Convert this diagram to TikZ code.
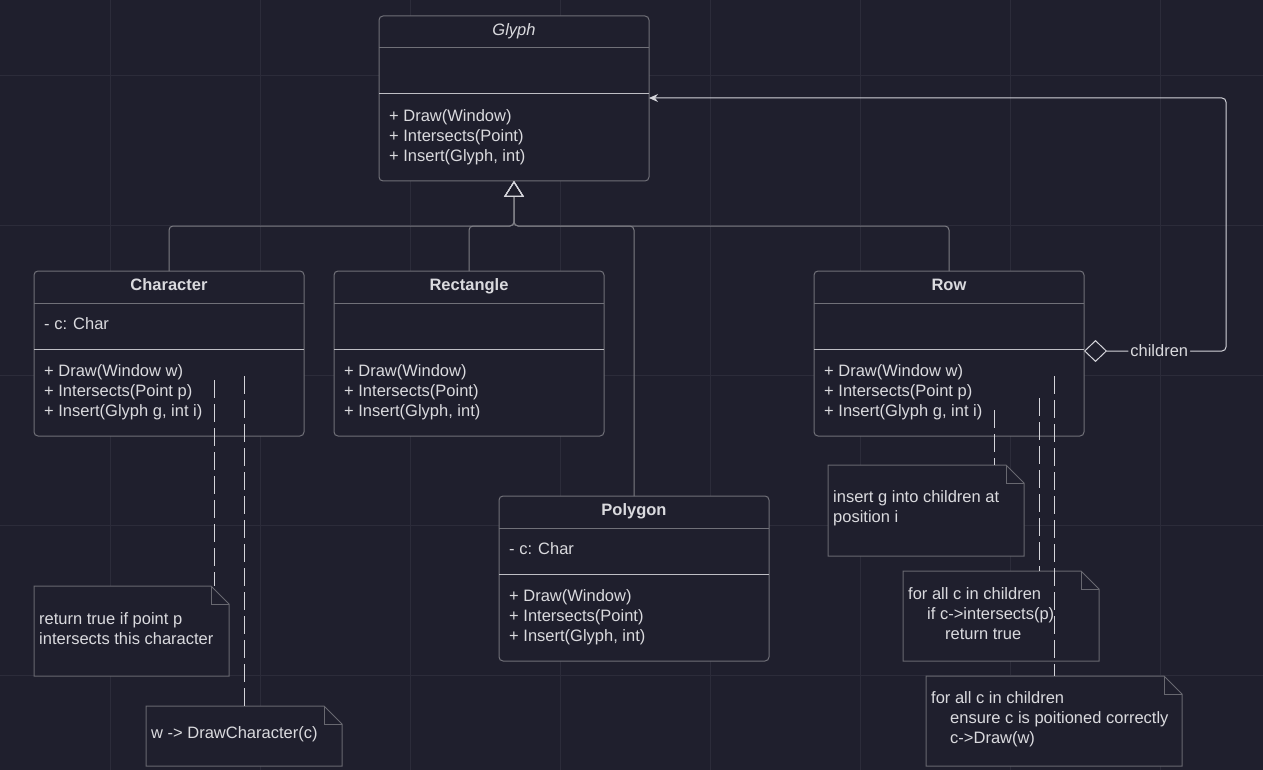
\documentclass[tikz,border=0pt]{standalone}
\usepackage{fontspec}
\setmainfont{Liberation Sans}
\usetikzlibrary{arrows.meta}

\definecolor{bgcol}{RGB}{31,31,45}
\definecolor{gridcol}{RGB}{44,44,58}
\definecolor{boxline}{RGB}{112,112,120}
\definecolor{opscol}{RGB}{190,190,196}
\definecolor{textcol}{RGB}{218,218,222}
\definecolor{inhcol}{RGB}{125,125,132}
\definecolor{linkcol}{RGB}{212,212,218}
\definecolor{notecol}{RGB}{104,104,112}

\tikzset{
  classbox/.style={draw=boxline, fill=bgcol, line width=1pt, rounded corners=4pt,
    minimum width=270pt, minimum height=165pt, inner sep=0pt, outer sep=0pt, anchor=north west},
  sepline/.style={draw=boxline, line width=1pt},
  opsline/.style={draw=opscol, line width=1pt},
  txt/.style={text=textcol, font=\fontsize{16.5pt}{20pt}\selectfont, inner sep=0pt,
    text height=11.8pt, text depth=0pt},
  notebg/.style={draw=none, inner sep=0pt, outer sep=0pt, anchor=north west},
  noteline/.style={draw=notecol, fill=bgcol, line width=1pt},
  notetxt/.style={text=textcol, font=\fontsize{16.5pt}{20pt}\selectfont, inner sep=0pt,
    align=left, anchor=west},
  inherit/.style={draw=inhcol, line width=1pt, rounded corners=4pt,
    -{Triangle[open, length=16pt, width=20pt, color=linkcol]}},
  aggr/.style={draw=linkcol, line width=1pt, rounded corners=4pt,
    {Diamond[open, length=23pt, width=22pt]}-{Stealth[length=9pt, width=8pt]}},
  lbl/.style={fill=bgcol, text=textcol, font=\fontsize{16.5pt}{20pt}\selectfont,
    inner xsep=2pt, inner ysep=1pt},
  noteconn/.style={draw=linkcol, line width=1pt, dash pattern=on 18pt off 6pt},
  gridline/.style={draw=gridcol, line width=0.8pt}
}

% name, top-left, title, attribute, three operations
\newcommand{\umlclass}[7]{%
  \node[classbox] (#1) at (#2) {};
  \draw[sepline] ([yshift=-32pt]#1.north west) -- ([yshift=-32pt]#1.north east);
  \draw[opsline] ([yshift=-78pt]#1.north west) -- ([yshift=-78pt]#1.north east);
  \node[txt] (#1-t) at ([yshift=-14pt]#1.north) {#3};
  \node[txt, anchor=west] (#1-a) at ([shift={(10pt,-53pt)}]#1.north west) {#4};
  \node[txt, anchor=west] (#1-m1) at ([shift={(10pt,-99.5pt)}]#1.north west) {#5};
  \node[txt, anchor=west] (#1-m2) at ([shift={(10pt,-119.5pt)}]#1.north west) {#6};
  \node[txt, anchor=west] (#1-m3) at ([shift={(10pt,-140pt)}]#1.north west) {#7};
}

% name, top-left, width, height, text
\newcommand{\umlnote}[5]{%
  \node[notebg, minimum width=#3, minimum height=#4] (#1) at (#2) {};
  \filldraw[noteline] (#1.north west) -- ([xshift=-18pt]#1.north east)
    -- ([yshift=-18pt]#1.north east) -- (#1.south east) -- (#1.south west) -- cycle;
  \draw[noteline, fill=none] ([xshift=-18pt]#1.north east) |- ([yshift=-18pt]#1.north east);
  \node[notetxt] (#1-t) at ([shift={(5pt,2pt)}]#1.west) {#5};
}

\begin{document}
\begin{tikzpicture}[x=1pt, y=-1pt]
  \fill[bgcol] (0,0) rectangle (1263,770);
  \useasboundingbox (0,0) rectangle (1263,770);
  \foreach \x in {110,260,...,1160} \draw[gridline] (\x,0) -- (\x,770);
  \foreach \y in {75,225,...,675} \draw[gridline] (0,\y) -- (1263,\y);

  \umlclass{glyph}{379,16}{\textit{Glyph}}{}
    {+ Draw(Window)}{+ Intersects(Point)}{+ Insert(Glyph, int)}
  \umlclass{character}{34,271}{\textbf{Character}}{- c: Char}
    {+ Draw(Window w)}{+ Intersects(Point p)}{+ Insert(Glyph g, int i)}
  \umlclass{rectangle}{334,271}{\textbf{Rectangle}}{}
    {+ Draw(Window)}{+ Intersects(Point)}{+ Insert(Glyph, int)}
  \umlclass{row}{814,271}{\textbf{Row}}{}
    {+ Draw(Window w)}{+ Intersects(Point p)}{+ Insert(Glyph g, int i)}
  \umlclass{polygon}{499,496}{\textbf{Polygon}}{- c: Char}
    {+ Draw(Window)}{+ Intersects(Point)}{+ Insert(Glyph, int)}

  \coordinate (hub) at (514,226);
  \foreach \c in {character,rectangle,polygon,row}
    \draw[inherit] (\c.north) |- (hub) -- (glyph.south);

  \coordinate (rowagg) at ([yshift=-80pt]row.north east);
  \coordinate (glyphagg) at ([yshift=-82pt]glyph.north east);
  \coordinate (aggturn) at (1226,351);
  \coordinate (aggtop) at (1226,98);
  \draw[aggr] (rowagg) -- node[lbl, pos=0.53] (childlbl) {children} (aggturn)
    -- (aggtop) -- (glyphagg);

  \umlnote{note1}{34,586}{195pt}{90pt}{return true if point p\\intersects this character}
  \umlnote{note2}{146,706}{196pt}{60pt}{w -> DrawCharacter(c)}
  \umlnote{note3}{828,465}{196pt}{91pt}{insert g into children at\\position i}
  \umlnote{note4}{903,571}{196pt}{90pt}{for all c in children\\
    \hspace*{19pt}if c->intersects(p)\\\hspace*{37pt}return true}
  \umlnote{note5}{926,676}{256pt}{90pt}{for all c in children\\
    \hspace*{19pt}ensure c is poitioned correctly\\\hspace*{19pt}c->Draw(w)}

  \coordinate (chr1) at (214,380);
  \coordinate (chr2) at (244,376);
  \coordinate (row1) at (994,410);
  \coordinate (row2) at (1039,398);
  \coordinate (row3) at (1054,376);
  \draw[noteconn] (chr1) -- (chr1 |- note1.north);
  \draw[noteconn] (chr2) -- (chr2 |- note2.north);
  \draw[noteconn] (row1) -- (row1 |- note3.north);
  \draw[noteconn] (row2) -- (row2 |- note4.north);
  \draw[noteconn] (row3) -- (row3 |- note5.north);
\end{tikzpicture}
\end{document}
